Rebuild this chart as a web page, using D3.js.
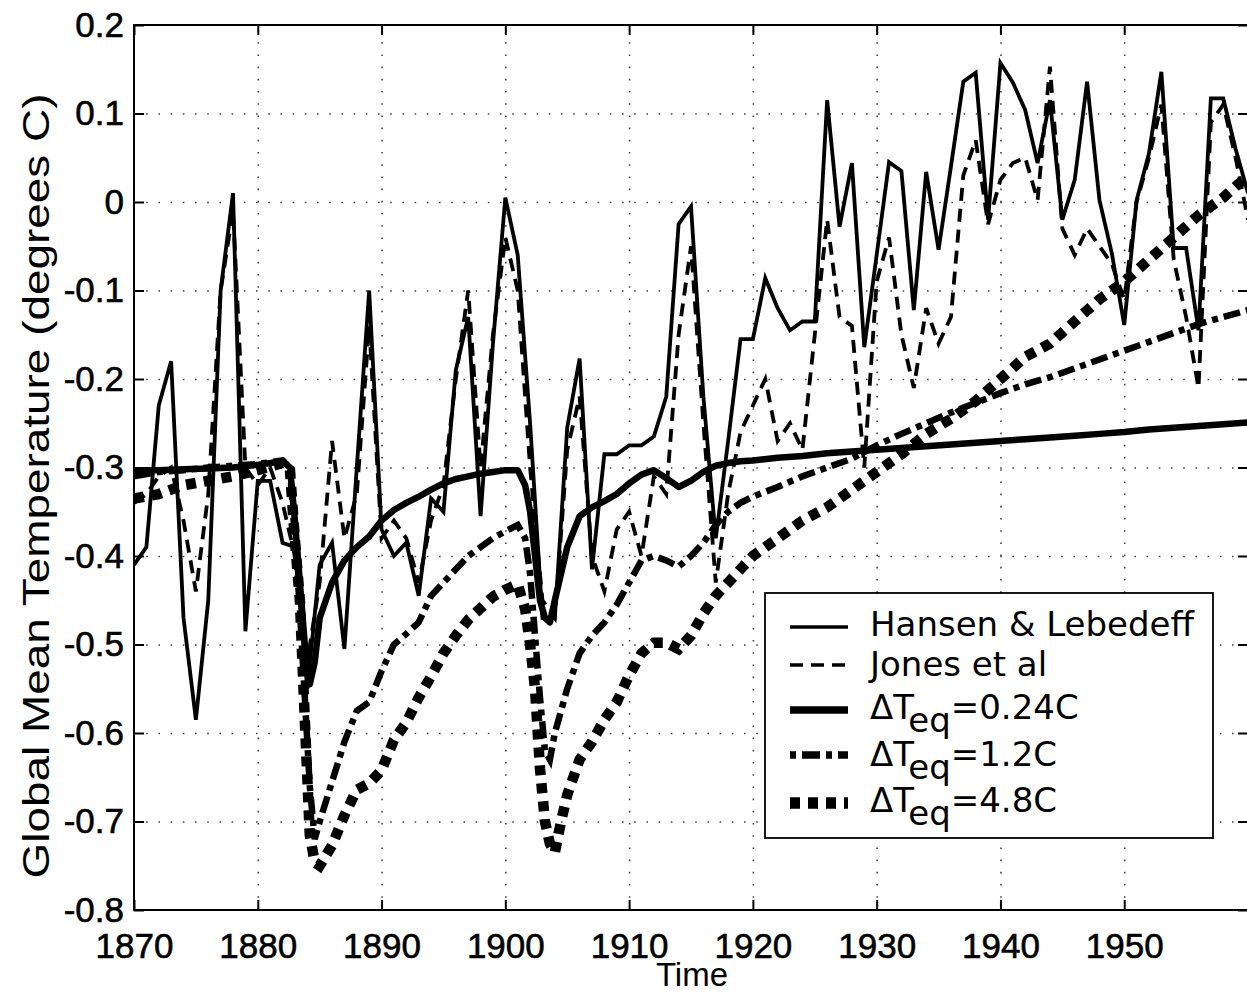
<!DOCTYPE html>
<html><head><meta charset="utf-8">
<script src="https://cdn.jsdelivr.net/npm/d3@7"></script>
<style>
html,body{margin:0;padding:0;background:#fff;}
svg{display:block;}
</style></head>
<body>
<svg id="chart" width="1247" height="996"></svg>
<script>
// ---------------- data ----------------
const years = d3.range(1870, 1961);
const hansen = [-0.41,-0.39,-0.23,-0.18,-0.47,-0.585,-0.45,-0.10,0.01,-0.485,
  -0.315,-0.315,-0.385,-0.39,-0.55,-0.41,-0.385,-0.505,-0.30,-0.10,
  -0.37,-0.40,-0.385,-0.445,-0.335,-0.35,-0.19,-0.13,-0.355,-0.16,
  0.005,-0.06,-0.25,-0.47,-0.47,-0.255,-0.177,-0.415,-0.285,-0.285,
  -0.275,-0.275,-0.265,-0.22,-0.025,-0.005,-0.22,-0.38,-0.27,-0.155,
  -0.155,-0.086,-0.12,-0.145,-0.135,-0.135,0.115,-0.028,0.044,-0.164,
  -0.06,0.045,0.035,-0.122,0.034,-0.054,0.04,0.136,0.146,-0.02,
  0.157,0.135,0.104,0.044,0.115,-0.02,0.025,0.136,0.002,-0.058,
  -0.139,0.002,0.055,0.147,-0.052,-0.052,-0.145,0.117,0.117,0.06,0.01];
const jones = [-0.34,-0.33,-0.31,-0.30,-0.36,-0.44,-0.33,-0.10,-0.01,-0.30,
  -0.32,-0.30,-0.34,-0.40,-0.52,-0.43,-0.27,-0.38,-0.33,-0.14,
  -0.38,-0.36,-0.38,-0.43,-0.36,-0.32,-0.20,-0.10,-0.30,-0.15,
  -0.04,-0.10,-0.30,-0.45,-0.47,-0.28,-0.22,-0.40,-0.44,-0.37,
  -0.35,-0.40,-0.31,-0.33,-0.15,-0.05,-0.25,-0.43,-0.33,-0.26,
  -0.23,-0.20,-0.27,-0.25,-0.28,-0.15,-0.02,-0.13,-0.14,-0.30,
  -0.09,-0.04,-0.15,-0.21,-0.12,-0.16,-0.13,0.03,0.07,-0.025,
  0.025,0.044,0.05,0.002,0.153,-0.03,-0.06,-0.03,-0.05,-0.07,
  -0.11,0.0,0.05,0.11,-0.065,-0.13,-0.21,0.09,0.11,0.05,-0.02];

const modelYears = [1870,1872,1874,1876,1878,1880,1882,1882.6,1883,1883.4,1883.8,1884.2,1884.6,1885,
  1886,1887,1888,1889,1890,1891,1892,1893,1894,1895,1896,1897,1898,1899,1900,1901,
  1901.6,1902,1902.4,1902.8,1903.2,1903.6,1904,1904.5,1905,1906,1907,1908,1909,1910,
  1911,1912,1913,1914,1915,1916,1917,1918,1919,1920,1922,1924,1926,1928,1930,1932,
  1934,1936,1938,1940,1942,1944,1946,1948,1950,1952,1954,1956,1958,1960];
const dT024 = [-0.303,-0.303,-0.302,-0.301,-0.300,-0.297,-0.293,-0.300,-0.36,-0.43,-0.50,-0.545,-0.52,-0.47,
  -0.43,-0.405,-0.39,-0.378,-0.36,-0.348,-0.34,-0.333,-0.325,-0.318,-0.313,-0.31,-0.307,-0.305,-0.303,-0.303,
  -0.32,-0.35,-0.40,-0.45,-0.47,-0.475,-0.45,-0.42,-0.39,-0.355,-0.345,-0.338,-0.33,-0.318,
  -0.308,-0.303,-0.312,-0.322,-0.315,-0.305,-0.298,-0.295,-0.293,-0.292,-0.289,-0.287,-0.284,-0.282,-0.28,-0.278,
  -0.276,-0.274,-0.272,-0.27,-0.268,-0.266,-0.264,-0.262,-0.26,-0.257,-0.255,-0.253,-0.251,-0.249];
const dT12 = [-0.31,-0.305,-0.303,-0.30,-0.298,-0.296,-0.292,-0.30,-0.38,-0.46,-0.56,-0.66,-0.72,-0.70,
  -0.655,-0.61,-0.575,-0.565,-0.53,-0.50,-0.488,-0.475,-0.445,-0.43,-0.415,-0.40,-0.39,-0.38,-0.372,-0.365,
  -0.38,-0.42,-0.49,-0.56,-0.62,-0.63,-0.60,-0.575,-0.55,-0.51,-0.49,-0.475,-0.455,-0.43,
  -0.405,-0.40,-0.405,-0.412,-0.40,-0.385,-0.365,-0.35,-0.34,-0.333,-0.322,-0.31,-0.30,-0.29,-0.275,-0.262,
  -0.25,-0.238,-0.227,-0.216,-0.206,-0.198,-0.188,-0.178,-0.168,-0.158,-0.148,-0.138,-0.13,-0.122];
const dT48 = [-0.335,-0.33,-0.32,-0.315,-0.31,-0.303,-0.295,-0.303,-0.382,-0.45,-0.585,-0.715,-0.746,-0.75,
  -0.727,-0.693,-0.664,-0.657,-0.642,-0.608,-0.588,-0.56,-0.536,-0.51,-0.49,-0.472,-0.459,-0.446,-0.438,-0.432,
  -0.46,-0.50,-0.55,-0.64,-0.70,-0.725,-0.735,-0.70,-0.67,-0.63,-0.61,-0.585,-0.565,-0.535,
  -0.51,-0.498,-0.498,-0.505,-0.49,-0.465,-0.445,-0.43,-0.415,-0.40,-0.38,-0.36,-0.345,-0.325,-0.305,-0.285,
  -0.262,-0.245,-0.225,-0.20,-0.175,-0.16,-0.135,-0.11,-0.09,-0.065,-0.04,-0.015,0.005,0.03];

const xTickValues = [1870,1880,1890,1900,1910,1920,1930,1940,1950];
const yTickValues = [-0.8,-0.7,-0.6,-0.5,-0.4,-0.3,-0.2,-0.1,0,0.1,0.2];
const yTickLabels = ["-0.8","-0.7","-0.6","-0.5","-0.4","-0.3","-0.2","-0.1","0","0.1","0.2"];
const legendLabels = ["Hansen & Lebedeff","Jones et al","0.24C","1.2C","4.8C"];

// ---------------- chart ----------------
const svg = d3.select("#chart");
const L = 134, R = 1248, T = 25, B = 910;
const x = d3.scaleLinear().domain([1870, 1960]).range([L, R]);
const y = d3.scaleLinear().domain([-0.8, 0.2]).range([B, T]);
const tickFont = "'Liberation Sans', Arial, Helvetica, sans-serif";

svg.append("defs").append("clipPath").attr("id","plotclip")
  .append("rect").attr("x",L).attr("y",T).attr("width",R-L).attr("height",B-T);

// grid (dotted)
const grid = svg.append("g").attr("class","grid");
grid.append("g").attr("transform",`translate(0,${B})`)
  .call(d3.axisBottom(x).tickValues(xTickValues.slice(1)).tickSize(-(B-T)).tickFormat(""))
  .call(g=>g.select(".domain").remove());
grid.append("g").attr("transform",`translate(${L},0)`)
  .call(d3.axisLeft(y).tickValues(yTickValues.slice(1,-1)).tickSize(-(R-L)).tickFormat(""))
  .call(g=>g.select(".domain").remove());
grid.selectAll("line").attr("stroke","#444").attr("stroke-width",1.6).attr("stroke-dasharray","1.6,10.6");

// data lines
const plot = svg.append("g").attr("clip-path","url(#plotclip)");
const lineObs = d3.line().x((d,i)=>x(years[i])).y(d=>y(d));
const lineMod = d3.line().x((d,i)=>x(modelYears[i])).y(d=>y(d));

plot.append("path").datum(dT48).attr("d",lineMod).attr("fill","none")
  .attr("stroke","#000").attr("stroke-width",10.5).attr("stroke-dasharray","10,8");
plot.append("path").datum(dT12).attr("d",lineMod).attr("fill","none")
  .attr("stroke","#000").attr("stroke-width",6.5).attr("stroke-dasharray","17,6,6,6");
plot.append("path").datum(dT024).attr("d",lineMod).attr("fill","none")
  .attr("stroke","#000").attr("stroke-width",6.5).attr("stroke-linejoin","round");
plot.append("path").datum(jones).attr("d",lineObs).attr("fill","none")
  .attr("stroke","#000").attr("stroke-width",3.8).attr("stroke-dasharray","13,8");
plot.append("path").datum(hansen).attr("d",lineObs).attr("fill","none")
  .attr("stroke","#000").attr("stroke-width",3.8).attr("stroke-linejoin","miter");

// axes box + inward ticks
const axes = svg.append("g");
axes.append("g").attr("transform",`translate(0,${B})`)
  .call(d3.axisBottom(x).tickValues(xTickValues).tickSize(-10).tickPadding(23).tickFormat(d3.format("d")))
  .call(g=>g.select(".domain").remove());
axes.append("g").attr("transform",`translate(0,${T})`)
  .call(d3.axisTop(x).tickValues(xTickValues).tickSize(-10).tickFormat(""))
  .call(g=>g.select(".domain").remove());
axes.append("g").attr("transform",`translate(${L},0)`)
  .call(d3.axisLeft(y).tickValues(yTickValues).tickSize(-10).tickPadding(10).tickFormat((d,i)=>yTickLabels[i]))
  .call(g=>g.select(".domain").remove());
axes.append("g").attr("transform",`translate(${R},0)`)
  .call(d3.axisRight(y).tickValues(yTickValues).tickSize(-10).tickFormat(""))
  .call(g=>g.select(".domain").remove());
axes.selectAll("line").attr("stroke","#000").attr("stroke-width",2);
axes.selectAll("text").attr("font-family",tickFont).attr("font-size",35).attr("fill","#000")
  .attr("stroke","#000").attr("stroke-width",0.6);
axes.append("rect").attr("x",L).attr("y",T).attr("width",R-L).attr("height",B-T)
  .attr("fill","none").attr("stroke","#000").attr("stroke-width",2);

// axis labels
svg.append("text").attr("x",692).attr("y",986).attr("text-anchor","middle")
  .attr("font-family",tickFont).attr("font-size",33).text("Time");
svg.append("text").attr("transform","translate(49,486) rotate(-90)").attr("text-anchor","middle")
  .attr("font-family",tickFont).attr("font-size",37)
  .attr("textLength",785).attr("lengthAdjust","spacingAndGlyphs")
  .text("Global Mean Temperature (degrees C)");

// legend
const leg = svg.append("g");
leg.append("rect").attr("x",765).attr("y",593).attr("width",448).attr("height",245)
  .attr("fill","#fff").attr("stroke","#000").attr("stroke-width",1.8);
const legFont = "'DejaVu Sans', Verdana, sans-serif";
const rows = [
  {ly:627, ty:636, w:3.6, dash:null},
  {ly:665, ty:676, w:3.6, dash:"13,8"},
  {ly:710, ty:719, w:7.5, dash:null},
  {ly:755, ty:766, w:7.5, dash:"6,6,18,6"},
  {ly:803, ty:812, w:11.5, dash:"10,8"}
];
rows.forEach((r,i)=>{
  const ln = leg.append("line").attr("x1",790).attr("x2",848).attr("y1",r.ly).attr("y2",r.ly)
    .attr("stroke","#000").attr("stroke-width",r.w);
  if (r.dash) ln.attr("stroke-dasharray",r.dash);
  const t = leg.append("text").attr("x",870).attr("y",r.ty)
    .attr("font-family",legFont).attr("font-size",34).attr("fill","#000");
  if (i<2) { t.text(legendLabels[i]); }
  else {
    t.append("tspan").text("\u0394T");
    t.append("tspan").attr("dy",13).text("eq");
    t.append("tspan").attr("dy",-13).text("=" + legendLabels[i]);
  }
});
</script>
</body></html>
